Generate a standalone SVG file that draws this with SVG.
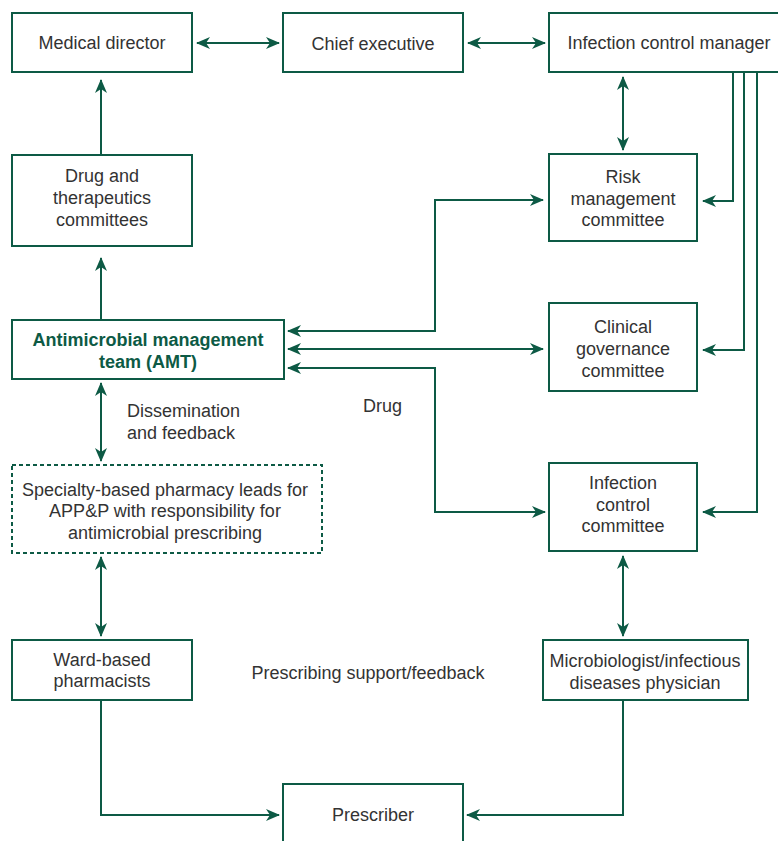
<svg xmlns="http://www.w3.org/2000/svg" width="778" height="841" viewBox="0 0 778 841">
<defs>
<marker id="ah" viewBox="0 0 14 12" refX="13" refY="6" markerWidth="14" markerHeight="12" markerUnits="userSpaceOnUse" orient="auto-start-reverse">
<path d="M0,0 L14,6 L0,12 L4,6 Z" fill="#0d5a45"/>
</marker>
</defs>
<style>
.box{fill:#fff;stroke:#0d5a45;stroke-width:2}
.dash{fill:#fff;stroke:#0d5a45;stroke-width:2;stroke-dasharray:4 3}
.t{font-family:"Liberation Sans",Arial,sans-serif;font-size:18px;fill:#333;text-anchor:middle}
.b{font-family:"Liberation Sans",Arial,sans-serif;font-size:18px;fill:#0d5a45;font-weight:bold;text-anchor:middle}
.l{font-family:"Liberation Sans",Arial,sans-serif;font-size:18px;fill:#333}
.c{fill:none;stroke:#0d5a45;stroke-width:2}
</style>
<rect width="778" height="841" fill="#fff"/>
<g id="connectors">
<line class="c" x1="197" y1="43" x2="279" y2="43" marker-start="url(#ah)" marker-end="url(#ah)"/>
<line class="c" x1="468" y1="43" x2="545" y2="43" marker-start="url(#ah)" marker-end="url(#ah)"/>
<line class="c" x1="623" y1="77" x2="623" y2="150" marker-start="url(#ah)" marker-end="url(#ah)"/>
<line class="c" x1="101" y1="155" x2="101" y2="80" marker-end="url(#ah)"/>
<line class="c" x1="101" y1="320" x2="101" y2="258" marker-end="url(#ah)"/>
<polyline class="c" points="733,72 733,201 703,201" marker-end="url(#ah)"/>
<polyline class="c" points="744,72 744,350 703,350" marker-end="url(#ah)"/>
<polyline class="c" points="757,72 757,512 703,512" marker-end="url(#ah)"/>
<polyline class="c" points="288,331 435,331 435,200 543,200" marker-start="url(#ah)" marker-end="url(#ah)"/>
<line class="c" x1="288" y1="349" x2="543" y2="349" marker-start="url(#ah)" marker-end="url(#ah)"/>
<polyline class="c" points="288,368 435,368 435,512 545,512" marker-start="url(#ah)" marker-end="url(#ah)"/>
<line class="c" x1="101" y1="383" x2="101" y2="461" marker-start="url(#ah)" marker-end="url(#ah)"/>
<line class="c" x1="101" y1="557" x2="101" y2="636" marker-start="url(#ah)" marker-end="url(#ah)"/>
<line class="c" x1="623" y1="556" x2="623" y2="636" marker-start="url(#ah)" marker-end="url(#ah)"/>
<polyline class="c" points="101,700 101,815 279,815" marker-end="url(#ah)"/>
<polyline class="c" points="623,700 623,815 467,815" marker-end="url(#ah)"/>
</g>
<g id="medical-director"><rect class="box" x="12" y="13" width="180" height="59"/><text class="t" x="102" y="49">Medical director</text></g>
<g id="chief-executive"><rect class="box" x="283" y="13" width="180" height="59"/><text class="t" x="373" y="50">Chief executive</text></g>
<g id="infection-control-manager"><rect class="box" x="549" y="13" width="240" height="59"/><text class="t" x="669" y="49">Infection control manager</text></g>
<g id="drug-therapeutics"><rect class="box" x="12" y="155" width="180" height="91"/><text class="t" x="102" y="182">Drug and</text><text class="t" x="102" y="204">therapeutics</text><text class="t" x="102" y="226">committees</text></g>
<g id="risk-management"><rect class="box" x="549" y="154" width="148" height="87"/><text class="t" x="623" y="183">Risk</text><text class="t" x="623" y="205">management</text><text class="t" x="623" y="226">committee</text></g>
<g id="amt"><rect class="box" x="12" y="320" width="272" height="59"/><text class="b" x="148" y="346">Antimicrobial management</text><text class="b" x="148" y="368">team (AMT)</text></g>
<g id="clinical-governance"><rect class="box" x="549" y="303" width="148" height="88"/><text class="t" x="623" y="333">Clinical</text><text class="t" x="623" y="355">governance</text><text class="t" x="623" y="377">committee</text></g>
<g id="labels"><text class="l" x="127" y="417">Dissemination</text><text class="l" x="127" y="439">and feedback</text><text class="l" x="363" y="412">Drug</text><text class="t" x="368" y="679">Prescribing support/feedback</text></g>
<g id="specialty-pharmacy"><rect class="dash" x="12" y="465" width="310" height="88"/><text class="t" x="165" y="496">Specialty-based pharmacy leads for</text><text class="t" x="165" y="517">APP&amp;P with responsibility for</text><text class="t" x="165" y="539">antimicrobial prescribing</text></g>
<g id="infection-control-committee"><rect class="box" x="549" y="463" width="148" height="88"/><text class="t" x="623" y="489">Infection</text><text class="t" x="623" y="511">control</text><text class="t" x="623" y="532">committee</text></g>
<g id="ward-pharmacists"><rect class="box" x="12" y="640" width="180" height="60"/><text class="t" x="102" y="666">Ward-based</text><text class="t" x="102" y="687">pharmacists</text></g>
<g id="microbiologist"><rect class="box" x="543" y="640" width="205" height="60"/><text class="t" x="645" y="667">Microbiologist/infectious</text><text class="t" x="645" y="689">diseases physician</text></g>
<g id="prescriber"><rect class="box" x="283" y="784" width="180" height="70"/><text class="t" x="373" y="821">Prescriber</text></g>
</svg>
